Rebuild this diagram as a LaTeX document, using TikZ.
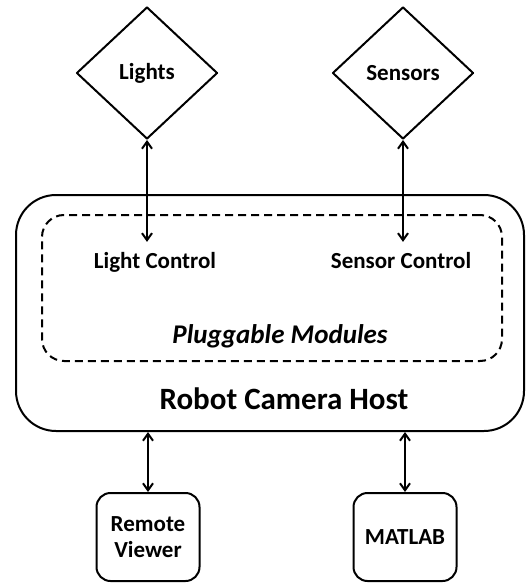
\documentclass[tikz,border=0pt]{standalone}
\usepackage{fontspec}
\setmainfont{Carlito}
\usetikzlibrary{
  arrows.meta,
  positioning,
  shapes.geometric,
}
\definecolor{ink}{HTML}{000000}
\tikzset{
  rch/.style={
    x=1pt, y=1pt,
    >={Straight Barb[length=7pt, width=10pt]},
    line width=2pt,
    line join=round,
  },
  device/.style={
    draw=ink,
    shape=diamond,
    aspect=1.06,
    minimum width=141pt,
    minimum height=132pt,
    inner sep=0pt,
    font=\fontsize{23}{27}\selectfont\bfseries,
  },
  hostbox/.style={
    draw=ink,
    rounded corners=40pt,
    minimum width=508pt,
    minimum height=236pt,
    inner sep=0pt,
  },
  modbox/.style={
    draw=ink,
    dash pattern=on 8pt off 5pt,
    rounded corners=22pt,
    minimum width=460pt,
    minimum height=146pt,
    inner sep=0pt,
  },
  client/.style={
    draw=ink,
    rounded corners=14pt,
    minimum width=103pt,
    minimum height=88pt,
    inner sep=0pt,
    align=center,
    font=\fontsize{23}{26}\selectfont\bfseries,
  },
  lab/.style={
    font=\fontsize{23}{27}\selectfont\bfseries,
    text=ink,
    inner sep=1pt,
    anchor=base,
  },
  link/.style={<->, draw=ink},
}

\begin{document}
\begin{tikzpicture}[rch]
  \useasboundingbox (0,0) rectangle (527,-583);

  % external devices
  \node[device] (lights)  at (147,-73) {Lights};
  \node[device] (sensors) at (403,-73) {Sensors};

  % host and its modules
  \node[hostbox] (host) at (270,-313) {};
  \node[modbox]  (mods) at (272,-288) {};
  \node[lab] (lightctl)  at (155,-268) {Light Control};
  \node[lab] (sensorctl) at (401,-268) {Sensor Control};
  \node[lab, font=\fontsize{27}{31}\selectfont\bfseries\itshape] (plug) at (280,-343) {Pluggable Modules};
  \node[lab, font=\fontsize{31}{36}\selectfont\bfseries] (hostname) at (284,-409) {Robot Camera Host};

  % clients
  \node[client] (viewer) at (148,-537) {Remote\\Viewer};
  \node[client] (matlab) at (405,-537) {MATLAB};

  \draw[link] (lights.south) -- ([yshift=8pt]lights.south |- lightctl.north);
  \draw[link] (sensors.south) -- ([yshift=8pt]sensors.south |- sensorctl.north);
  \draw[link] (viewer.north |- host.south) -- (viewer.north);
  \draw[link] (matlab.north |- host.south) -- (matlab.north);
\end{tikzpicture}
\end{document}
